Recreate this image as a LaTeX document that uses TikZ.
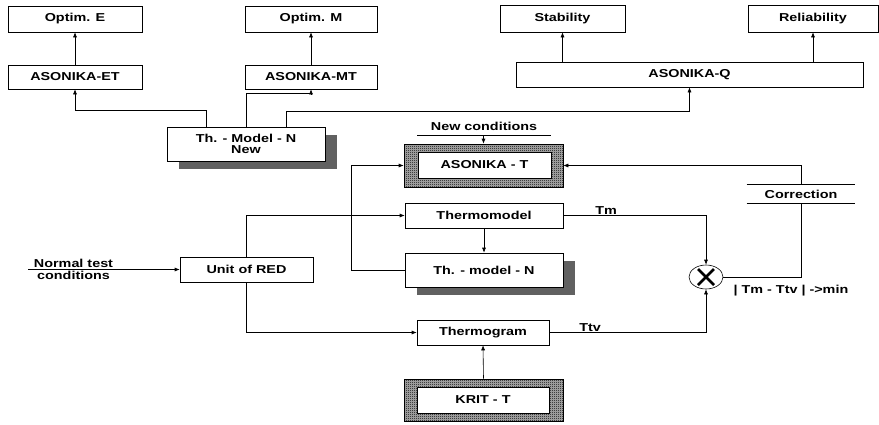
\documentclass[tikz,border=0pt]{standalone}
\usepackage{fontspec}
\setmainfont{Liberation Sans}[FakeStretch=1.25]
\usetikzlibrary{arrows.meta}
\usetikzlibrary{shapes.geometric}
\usetikzlibrary{patterns}
\usetikzlibrary{shadows}

% fine checker for the hatched frames
\pgfdeclarepatternformonly{checker}{\pgfqpoint{0pt}{0pt}}{\pgfqpoint{2pt}{2pt}}{\pgfqpoint{2pt}{2pt}}{
  \pgfpathrectangle{\pgfqpoint{0pt}{0pt}}{\pgfqpoint{1pt}{1pt}}
  \pgfpathrectangle{\pgfqpoint{1pt}{1pt}}{\pgfqpoint{1pt}{1pt}}
  \pgfusepath{fill}}

\tikzset{
  blk/.style={draw,fill=white,inner sep=0pt,align=center},
  hatchbox/.style={draw,preaction={fill=black!30},pattern=checker,pattern color=black,inner sep=0pt},
  shadowed/.style={drop shadow={shadow xshift=12pt,shadow yshift=-8pt,opacity=1,fill=black!62}},
  arr/.style={-{Latex[length=5pt,width=4pt]}},
}

\begin{document}
\begin{tikzpicture}[x=1pt,y=-1pt,line width=0.6pt,
    font=\bfseries\fontsize{11.5}{12.5}\selectfont]
  \useasboundingbox (0,0) rectangle (879,424);

  % upper row
  \node[blk,minimum width=134,minimum height=26] (optE) at (75,19) {Optim. E};
  \node[blk,minimum width=134,minimum height=24] (asET) at (75,77) {ASONIKA-ET};
  \node[blk,minimum width=132,minimum height=26] (optM) at (311,19) {Optim. M};
  \node[blk,minimum width=132,minimum height=24] (asMT) at (311,77) {ASONIKA-MT};
  \node[blk,minimum width=125,minimum height=27] (stab) at (562.5,18.5) {Stability};
  \node[blk,minimum width=130,minimum height=27] (rel) at (813,18.5) {Reliability};
  \node[blk,minimum width=347,minimum height=25] (asQ) at (689.5,74.5) {ASONIKA-Q};
  \node[blk,shadowed,minimum width=158,minimum height=34] (thN) at (246,144) {Th. - Model - N\\[-2pt]New};

  \draw[arr] (asET) -- (optE);
  \draw[arr] (asMT) -- (optM);
  \draw[arr] (stab.south |- asQ.north) -- (stab.south);
  \draw[arr] (rel.south |- asQ.north) -- (rel.south);
  \draw[arr] ([xshift=-40pt]thN.north) -- ++(0,-16) -| (asET.south);
  \draw[arr] (thN.north) -- ++(0,-33) -| (asMT.south);
  \draw[arr] ([xshift=40pt]thN.north) -- ++(0,-15) -| (asQ.south);

  % middle column
  \node[hatchbox,minimum width=159,minimum height=43] (asT) at (483.5,165.5) {};
  \node[blk,minimum width=133,minimum height=26] (asTin) at (484.5,165) {ASONIKA - T};
  \node (newc) at (484,126) {New conditions};
  \coordinate (ncL) at (417,135);
  \coordinate (ncR) at (551,135);
  \draw (ncL) -- (ncR);
  \draw[arr] (ncL -| asT.north) -- (asT.north);

  \node[blk,minimum width=158,minimum height=25] (thermo) at (484,215.5) {Thermomodel};
  \node[blk,shadowed,minimum width=158,minimum height=34] (thmN) at (484,270) {Th. - model - N};
  \node[blk,minimum width=133,minimum height=25] (unit) at (246.5,269.5) {Unit of RED};
  \node[blk,minimum width=132,minimum height=25] (tgram) at (483,332.5) {Thermogram};
  \node[hatchbox,minimum width=159,minimum height=42] (krit) at (483.5,400) {};
  \node[blk,minimum width=132,minimum height=26] (kritin) at (483,400) {KRIT - T};

  % comparison and correction
  \node[draw,ellipse,minimum width=34,minimum height=24,inner sep=0pt] (cmp) at (706,277) {};
  \draw[line width=2.6pt] ([shift={(-8,-8)}]cmp.center) -- ([shift={(8,8)}]cmp.center);
  \draw[line width=2.6pt] ([shift={(-8,8)}]cmp.center) -- ([shift={(8,-8)}]cmp.center);
  \node[minimum width=108,minimum height=18,inner sep=0pt] (corr) at (801,194) {Correction};
  \draw (corr.north west) -- (corr.north east);
  \draw (corr.south west) -- (corr.south east);
  \node[anchor=west] (crit) at (730,291) {| Tm - Ttv | ->min};

  \coordinate (ntc) at (28,269.5);
  \draw[arr] (ntc) -- node[pos=0.3,above,inner sep=1.5pt] {Normal test}
    node[pos=0.3,below,inner sep=1pt] {conditions} (unit.west);
  \draw[arr] (unit.north) |- (thermo.west);
  \draw[arr] (unit.south) |- (tgram.west);
  \draw[arr] (thmN.west) -- ++(-53,0) |- (asT.west);
  \draw[arr] (thermo.south) -- (thmN.north);
  \draw[arr] (krit.north) -- (tgram.south);
  \draw[arr] (thermo.east) -| node[pos=0.15,above,inner sep=1pt] {Tm} (cmp.north);
  \draw[arr] (tgram.east) -| node[pos=0.13,above,inner sep=1pt] {Ttv} (cmp.south);
  \draw[arr] (corr.north) |- (asT.east);
  \draw (corr.south) |- (cmp.east);
\end{tikzpicture}
\end{document}
